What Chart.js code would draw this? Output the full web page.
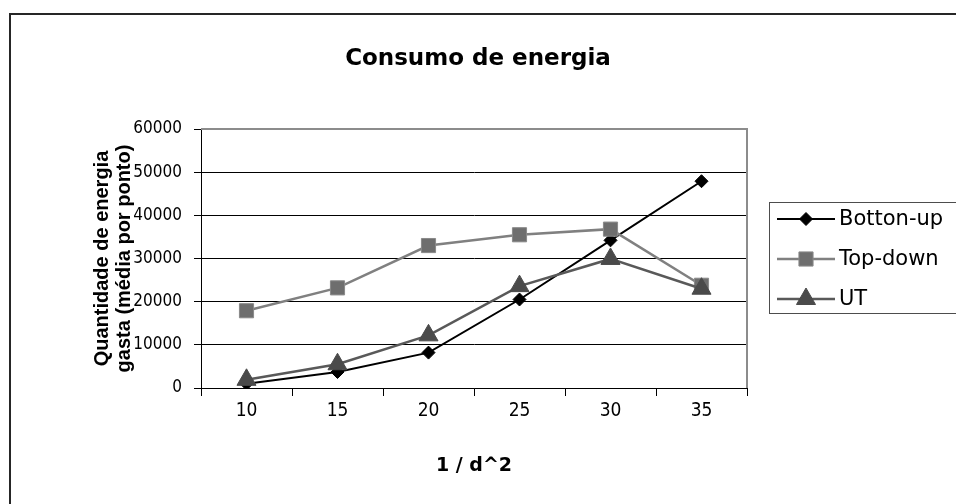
<!DOCTYPE html>
<html>
<head>
<meta charset="utf-8">
<title>Consumo de energia</title>
<script src="https://cdn.jsdelivr.net/npm/chart.js@4.4.1/dist/chart.umd.min.js"></script>
<style>
html,body{margin:0;padding:0;background:#fff;}
#wrap{width:956px;height:504px;position:relative;}
</style>
</head>
<body>
<div id="wrap"><canvas id="chart" width="956" height="504"></canvas></div>
<script>
// data
const chartTitle = "Consumo de energia";
const xTitle = "1 / d^2";
const yTitle = ["Quantidade de energia", "gasta (média por ponto)"];
const categories = ["10", "15", "20", "25", "30", "35"];
const seriesNames = ["Botton-up", "Top-down", "UT"];
const bottonUp = [1000, 3700, 8200, 20500, 34200, 47900];
const topDown = [17900, 23200, 33000, 35500, 36800, 23800];
const ut = [1900, 5500, 12200, 23600, 29900, 23000];
const yTicks = [0, 10000, 20000, 30000, 40000, 50000, 60000];

const FONT = "'DejaVu Sans', 'Liberation Sans', sans-serif";
const ARIAL = "'Liberation Sans', Arial, sans-serif";
const NARROW = "'DejaVu Sans Condensed', 'Liberation Sans', sans-serif";
Chart.defaults.font.family = FONT;
Chart.defaults.color = "#000";

function mkSet(label, data, line, width, style, radius, fill, border, order) {
    return {
        label: label, data: data, order: order,
        borderColor: line, borderWidth: width, tension: 0,
        pointStyle: style, pointRadius: radius, pointHoverRadius: radius,
        pointBackgroundColor: fill, pointBorderColor: border, pointBorderWidth: 1
    };
}

const frame = {
    id: 'frame',
    beforeDraw(chart) {
        const c = chart.ctx;
        c.save();
        c.strokeStyle = '#262626';
        c.lineWidth = 2;
        c.strokeRect(10, 14, 1000, 600);
        c.restore();
    },
    beforeDatasetsDraw(chart) {
        const a = chart.chartArea, c = chart.ctx;
        c.save();
        c.strokeStyle = '#8c8c8c';
        c.lineWidth = 2;
        c.beginPath();
        c.moveTo(a.left, a.top);
        c.lineTo(a.right, a.top);
        c.lineTo(a.right, a.bottom);
        c.stroke();
        c.restore();
    },
    afterDraw(chart) {
        const c = chart.ctx;
        c.save();
        // title
        c.font = "bold 23px " + FONT;
        c.fillStyle = '#000';
        c.textAlign = 'center';
        c.textBaseline = 'alphabetic';
        c.fillText(chartTitle, 478, 65);
        // legend
        c.strokeStyle = '#4d4d4d';
        c.lineWidth = 1;
        c.strokeRect(769.5, 202.5, 300, 111);
        c.font = "21px " + FONT;
        c.textAlign = 'left';
        c.textBaseline = 'middle';
        chart.data.datasets.forEach(function (ds, i) {
            const y = 219 + i * 40;
            c.strokeStyle = ds.borderColor;
            c.lineWidth = ds.borderWidth;
            c.beginPath();
            c.moveTo(777, y);
            c.lineTo(835, y);
            c.stroke();
            c.fillStyle = ds.pointBackgroundColor;
            c.strokeStyle = ds.pointBorderColor;
            c.lineWidth = 1;
            Chart.helpers.drawPoint(c, {pointStyle: ds.pointStyle, radius: ds.pointRadius, rotation: 0, borderWidth: 1}, 806, y);
            c.fillStyle = '#000';
            c.fillText(ds.label, 839, y + 1);
        });
        c.restore();
    }
};

new Chart(document.getElementById('chart'), {
    type: 'line',
    data: {
        labels: categories,
        datasets: [
            mkSet(seriesNames[0], bottonUp, '#000000', 2, 'rectRot', 6.5, '#000000', '#000000', 3),
            mkSet(seriesNames[1], topDown, '#808080', 2.5, 'rect', 10, '#6e6e6e', '#8a8a8a', 2),
            mkSet(seriesNames[2], ut, '#595959', 2.5, 'triangle', 11, '#4a4a4a', '#4a4a4a', 1)
        ]
    },
    options: {
        responsive: false,
        animation: false,
        events: [],
        layout: {padding: {top: 129, right: 209, bottom: 0, left: 0}},
        plugins: {legend: {display: false}, title: {display: false}, tooltip: {enabled: false}},
        scales: {
            x: {
                type: 'category',
                offset: true,
                afterFit(s) { s.height = 116; },
                grid: {offset: true, drawOnChartArea: false, drawTicks: true, tickLength: 8, color: '#000', lineWidth: 1},
                border: {display: true, color: '#000', width: 1},
                ticks: {padding: 4, font: {size: 19, family: NARROW}, color: '#000', maxRotation: 0},
                title: {display: true, text: xTitle, font: {size: 19, weight: 'bold'}, color: '#000', padding: {top: 0, bottom: 27}}
            },
            y: {
                min: yTicks[0],
                max: yTicks[yTicks.length - 1],
                afterFit(s) { s.width = 201; },
                afterBuildTicks(s) { s.ticks = yTicks.map(v => ({value: v})); },
                grid: {color: '#000', lineWidth: 1, drawTicks: true, tickLength: 7},
                border: {display: true, color: '#000', width: 1},
                ticks: {padding: 12, font: {size: 17, family: NARROW}, color: '#000', callback: v => String(v)},
                title: {display: true, text: yTitle, font: {size: 20, weight: 'bold', family: ARIAL, lineHeight: 1.1}, color: '#000', padding: {top: 91, bottom: 0}}
            }
        }
    },
    plugins: [frame]
});
</script>
</body>
</html>
